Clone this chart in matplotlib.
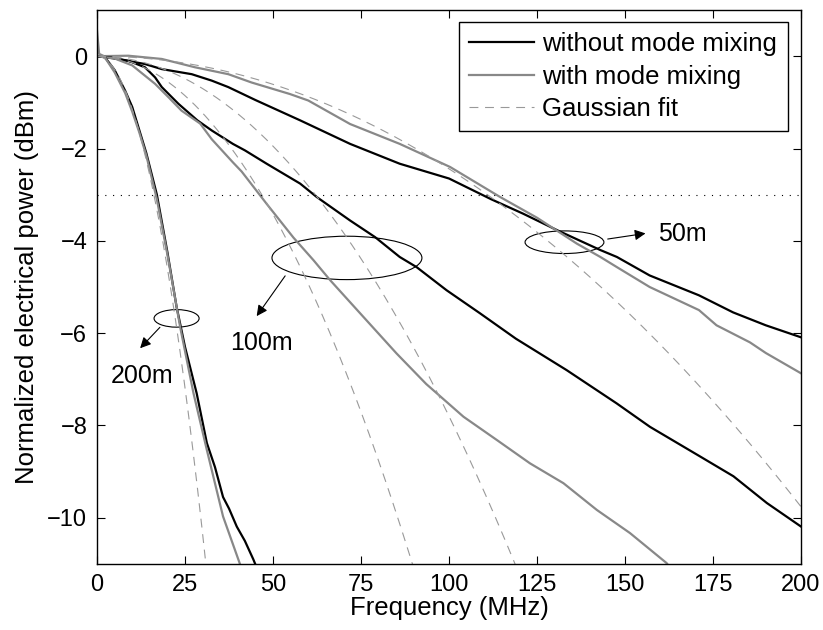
import numpy as np
import matplotlib
matplotlib.use("Agg")
import matplotlib.pyplot as plt
from matplotlib.patches import Ellipse

plt.rcParams['font.family'] = ['Liberation Sans', 'DejaVu Sans']

# 200 m fibre
black_200_f = [0, 2, 5, 8, 10, 12, 14, 17, 20, 22.6, 25, 28.3, 31.2, 33.5, 35.8, 37.5, 39.7, 42, 44.4, 46]
black_200_y = [0, 0, -0.3, -0.75, -1.1, -1.6, -2.1, -3.0, -4.25, -5.43, -6.3, -7.3, -8.38, -8.9, -9.55, -9.8, -10.19, -10.5, -10.9, -11.2]
grey_200_f = [0, 0.6, 2, 5, 8, 10, 12, 14, 17, 20, 23.6, 27.4, 31.2, 35.8, 40.6, 42]
grey_200_y = [0.55, 0.05, 0, -0.35, -0.8, -1.2, -1.65, -2.15, -3.1, -4.3, -5.86, -7.3, -8.53, -9.97, -11, -11.3]

# 100 m fibre
black_100_f = [0, 4, 8.9, 13.6, 16.5, 18.4, 23.1, 28.5, 32.6, 38.6, 42, 48.2, 57.7, 62.4, 71.9, 79,
               86, 90.8, 99.3, 108.8, 119, 133.4, 147.6, 157.1, 171.3, 180.8, 190.3, 200]
black_100_y = [0, -0.03, -0.1, -0.24, -0.46, -0.67, -1.03, -1.39, -1.61, -1.9, -2.04, -2.33, -2.76, -3.05, -3.56, -3.92,
               -4.35, -4.57, -5.07, -5.57, -6.12, -6.8, -7.52, -8.03, -8.67, -9.1, -9.68, -10.19]
grey_100_f = [0, 5, 10, 16.5, 20.3, 24, 29.3, 32.6, 38.6, 41.1, 48.2, 55.8, 61.5, 66.2, 75.7, 85.1,
              93.5, 104.1, 113.5, 123, 132.5, 142, 151.4, 161.8, 163]
grey_100_y = [0, -0.05, -0.2, -0.6, -0.89, -1.18, -1.46, -1.8, -2.3, -2.5, -3.2, -3.93, -4.42, -4.85, -5.65, -6.44,
              -7.1, -7.81, -8.31, -8.82, -9.25, -9.83, -10.33, -10.98, -11.1]

# 50 m fibre
black_50_f = [0, 5, 13.6, 18.4, 26.9, 32.6, 37.3, 45, 57.7, 71.9, 86, 100, 112, 121, 131, 143, 147.7,
              157, 171, 180.7, 190, 200]
black_50_y = [0, -0.05, -0.17, -0.28, -0.39, -0.53, -0.67, -0.95, -1.39, -1.9, -2.33, -2.65, -3.1, -3.41, -3.78, -4.2, -4.35,
              -4.75, -5.18, -5.55, -5.83, -6.09]
grey_50_f = [0, 8.9, 18.4, 27.8, 37.3, 43.9, 54.8, 60, 71.9, 86, 100.3, 114.5, 125, 136.3, 143, 147.7,
             157, 171, 176, 185.5, 190, 200]
grey_50_y = [0, 0.01, -0.06, -0.24, -0.39, -0.57, -0.82, -0.96, -1.47, -1.9, -2.4, -3.05, -3.5, -4.06, -4.35, -4.57,
             -5.0, -5.5, -5.83, -6.2, -6.43, -6.87]

# Gaussian fits: P(f) = -k * f^2 (dB)
fit_k = [2.44e-4, 7.8e-4, 1.37e-3, 1.15e-2]


def main():
    fig = plt.figure(figsize=(8.23, 6.30), dpi=100)
    ax = fig.add_axes([0.1179, 0.1048, 0.8554, 0.8793])

    black = 'black'
    grey = '#888888'
    lw = 1.6

    ax.plot(black_50_f, black_50_y, color=black, lw=lw, label='without mode mixing')
    ax.plot(grey_50_f, grey_50_y, color=grey, lw=lw, label='with mode mixing')
    ax.plot(black_100_f, black_100_y, color=black, lw=lw)
    ax.plot(grey_100_f, grey_100_y, color=grey, lw=lw)
    ax.plot(black_200_f, black_200_y, color=black, lw=lw)
    ax.plot(grey_200_f, grey_200_y, color=grey, lw=lw)

    f = np.linspace(0, 200, 800)
    for i, k in enumerate(fit_k):
        ax.plot(f, -k * f ** 2, color='#999999', lw=0.8, ls=(0, (8, 6)),
                label='Gaussian fit' if i == 0 else None)

    # -3 dB reference
    ax.axhline(-3, color='black', lw=0.8, ls=(0, (1, 6)))

    # annotations
    for cx, cy, w, h in [(22.6, -5.68, 12.8, 0.38), (71, -4.37, 42.6, 0.94), (132.8, -4.03, 22.4, 0.49)]:
        ax.add_patch(Ellipse((cx, cy), w, h, fill=False, ec='black', lw=0.8))
    arrow = dict(arrowstyle='-|>', color='black', lw=0.8, mutation_scale=16)
    ax.annotate('', xy=(11.7, -6.37), xytext=(18.4, -5.83), arrowprops=arrow)
    ax.annotate('', xy=(44.9, -5.68), xytext=(53.9, -4.71), arrowprops=arrow)
    ax.annotate('', xy=(156.6, -3.83), xytext=(144.3, -3.97), arrowprops=arrow)
    ax.text(12.7, -6.93, '200m', fontsize=18, ha='center', va='center')
    ax.text(46.8, -6.21, '100m', fontsize=18, ha='center', va='center')
    ax.text(159.4, -3.85, '50m', fontsize=18, ha='left', va='center')

    ax.set_xlim(0, 200)
    ax.set_ylim(-11, 1)
    ax.set_xticks(np.arange(0, 201, 25))
    ax.set_yticks(np.arange(-10, 1, 2))
    ax.set_yticklabels([str(v).replace('-', '\u2212') for v in range(-10, 1, 2)])
    ax.tick_params(direction='in', top=True, right=True, length=6, width=0.8, labelsize=17, pad=7)
    for s in ax.spines.values():
        s.set_linewidth(1.0)
    ax.set_xlabel('Frequency (MHz)', fontsize=18.5, labelpad=0)
    ax.set_ylabel('Normalized electrical power (dBm)', fontsize=18.5, labelpad=6)

    leg = ax.legend(loc='upper right', bbox_to_anchor=(0.981, 0.978), borderaxespad=0,
                    fontsize=18.5, handlelength=2.5, fancybox=False, framealpha=1,
                    edgecolor='black', labelspacing=0.32, borderpad=0.4, handletextpad=0.35)
    leg.get_frame().set_linewidth(1.0)

    fig.savefig('out.png', dpi=100)


if __name__ == "__main__":
    main()
